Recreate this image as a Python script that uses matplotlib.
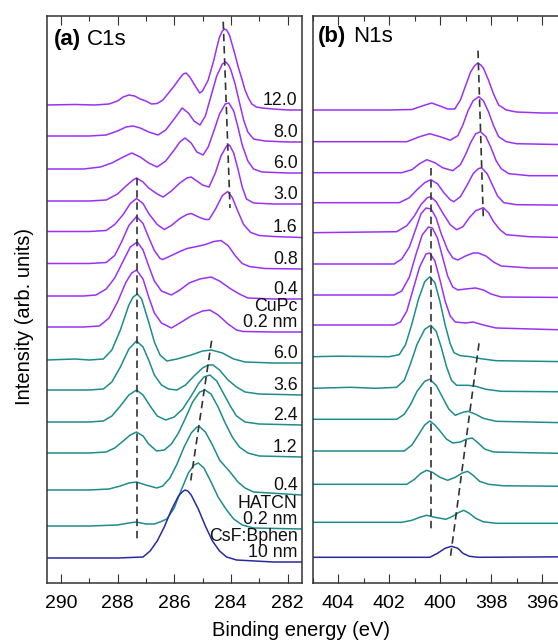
import matplotlib
matplotlib.use('Agg')
import matplotlib.pyplot as plt
from matplotlib.ticker import MultipleLocator
import matplotlib.transforms as mtransforms

plt.rcParams['font.family'] = ['Liberation Sans', 'DejaVu Sans']

# ---------------- data ----------------
curve_labels = ['12.0', '8.0', '6.0', '3.0', '1.6', '0.8', '0.4', 'CuPc\n0.2 nm',
                '6.0', '3.6', '2.4', '1.2', '0.4', 'HATCN\n0.2 nm', 'CsF:Bphen\n10 nm']
curve_groups = ['CuPc'] * 8 + ['HATCN'] * 6 + ['CsF']
group_colors = {'CuPc': '#9a32f5', 'HATCN': '#1e8c8c', 'CsF': '#2a2aa0'}

# vertical stacking offsets (arb. units), top to bottom
c1s_offsets = [477.5, 446.5, 413.5, 381.5, 351, 319, 286.5, 255.5,
               222.5, 192.5, 160.5, 129.5, 92.5, 56.5, 24.5]
n1s_offsets = [472.5, 440.8, 409.8, 379.8, 349.8, 318.5, 287.5, 257.5,
               225.8, 194.2, 163.2, 131.5, 98.2, 60.2, 25.2]

# C1s spectra: (binding energy eV, intensity)
c1s_12p0 = [(290.5,0),(289.5,0.5),(288.8,0),(288.3,1),(288.0,4),(287.8,8),(287.6,10),(287.4,9),(287.2,6),(287.0,4),(286.8,1),(286.6,1.5),(286.4,5),(286.2,12),(286.0,19),(285.8,27),(285.68,31),(285.58,32),(285.45,28),(285.3,21),(285.1,12),(285.0,14),(284.8,25),(284.6,45),(284.5,57),(284.4,68),(284.3,74),(284.23,76),(284.15,75),(284.05,70),(283.97,62),(283.85,50),(283.74,38),(283.6,25),(283.5,15),(283.38,7),(283.26,1),(283.1,-2),(282.9,-3),(282.5,-4),(282.0,-5),(281.5,-5)]
c1s_8p0 = [(290.5,0),(289.0,0),(288.4,1),(288.0,5),(287.7,9),(287.45,10),(287.2,8),(286.9,4),(286.57,1),(286.3,6),(286.0,17),(285.72,28),(285.5,23),(285.3,15),(285.09,11),(284.9,20),(284.7,40),(284.5,60),(284.3,72),(284.18,74),(284.08,71),(284.0,66),(283.85,52),(283.7,34),(283.55,16),(283.4,4),(283.2,-3),(282.8,-5),(282.0,-6),(281.5,-6)]
c1s_6p0 = [(290.5,0),(289.2,0),(288.6,2),(288.2,6),(287.8,12),(287.5,16),(287.2,12),(286.9,6),(286.6,2),(286.3,8),(286.0,19),(285.8,27),(285.62,31),(285.4,26),(285.2,17),(284.98,14),(284.8,22),(284.6,38),(284.4,55),(284.2,65),(284.07,66),(283.9,58),(283.75,42),(283.6,24),(283.4,8),(283.2,0),(282.9,-3),(282.0,-4),(281.5,-4)]
c1s_3p0 = [(290.5,0),(289.0,0),(288.4,1),(288.0,7),(287.7,15),(287.45,21),(287.33,23),(287.1,19),(286.9,13),(286.6,7),(286.39,4),(286.1,10),(285.8,18),(285.55,23),(285.4,24),(285.2,20),(285.0,16),(284.77,14),(284.55,28),(284.35,45),(284.15,55),(284.05,56),(283.9,48),(283.75,32),(283.6,14),(283.45,2),(283.2,-2),(282.5,-3),(281.5,-3)]
c1s_1p6 = [(290.5,0),(289.0,0),(288.4,1),(288.1,7),(287.8,17),(287.55,28),(287.33,33),(287.1,28),(286.9,18),(286.6,7),(286.35,2),(286.1,6),(285.8,13),(285.55,17),(285.4,18),(285.1,14),(284.9,12),(284.77,12),(284.55,22),(284.3,36),(284.11,40),(283.95,34),(283.75,20),(283.55,7),(283.3,-1),(283.0,-4),(282.5,-5),(281.5,-6)]
c1s_0p8 = [(290.5,0),(289.0,0),(288.4,1),(288.1,8),(287.85,22),(287.6,38),(287.33,47),(287.1,40),(286.9,26),(286.7,13),(286.5,5),(286.4,4),(286.1,8),(285.8,12),(285.55,15),(285.2,17),(284.9,19),(284.6,22),(284.35,23),(284.1,18),(283.85,8),(283.6,0),(283.35,-3),(282.8,-5),(281.5,-5.5)]
c1s_0p4 = [(290.5,0),(289.2,0),(288.76,1),(288.4,7),(288.1,18),(287.8,35),(287.55,49),(287.3,54),(287.1,46),(286.9,30),(286.7,15),(286.45,5),(286.1,1),(285.8,6),(285.47,13),(285.1,17),(284.7,19),(284.4,15),(284.0,7),(283.7,2),(283.4,-2),(282.5,-3),(281.5,-3)]
c1s_cupc = [(290.5,0),(289.2,0),(288.64,1),(288.3,9),(288.0,25),(287.7,45),(287.5,54),(287.33,57),(287.1,48),(286.9,30),(286.7,14),(286.45,4),(286.1,-1),(285.8,4),(285.4,11),(285.0,16),(284.74,17),(284.45,12),(284.1,3),(283.8,-3),(283.57,-4.5),(282.5,-5),(281.5,-5)]
c1s_h6p0 = [(290.5,0),(289.5,1),(289.0,0),(288.5,1),(288.2,10),(287.9,30),(287.6,55),(287.45,63),(287.3,66),(287.15,61),(286.9,38),(286.7,18),(286.5,5),(286.26,-1),(285.9,1),(285.4,5),(285.0,9),(284.68,10),(284.3,7),(283.9,1),(283.5,-2),(282.5,-3),(281.5,-3)]
c1s_h3p6 = [(290.5,0),(289.0,0),(288.5,1),(288.2,8),(287.9,23),(287.6,41),(287.33,49),(287.1,43),(286.9,30),(286.7,15),(286.45,5),(286.2,1),(285.91,0),(285.6,5),(285.3,14),(285.0,22),(284.8,25),(284.63,25),(284.4,20),(284.1,10),(283.8,3),(283.5,-2),(283.0,-4),(281.5,-5)]
c1s_h2p4 = [(290.5,0),(289.0,0),(288.5,1),(288.2,6),(287.9,16),(287.6,27),(287.33,32),(287.1,27),(286.85,16),(286.6,6),(286.3,2),(286.0,5),(285.7,13),(285.4,26),(285.15,38),(284.95,45),(284.74,47),(284.5,41),(284.25,28),(284.0,15),(283.8,6),(283.5,0),(283.0,-2),(281.5,-3)]
c1s_h1p2 = [(290.5,0),(289.0,0),(288.4,1),(288.1,5),(287.8,12),(287.55,18),(287.33,21),(287.1,17),(286.9,9),(286.62,2),(286.35,3),(286.1,9),(285.85,20),(285.6,35),(285.35,51),(285.1,61),(284.91,63),(284.7,59),(284.45,46),(284.2,30),(283.95,16),(283.7,6),(283.4,0),(283.0,-3),(281.5,-4)]
c1s_h0p4 = [(290.5,0),(289.0,0),(288.3,1),(287.9,4),(287.6,7),(287.33,8),(287.0,5),(286.62,2),(286.4,4),(286.15,12),(285.9,26),(285.65,43),(285.4,57),(285.2,63),(285.09,63),(284.9,58),(284.65,45),(284.4,30),(284.0,17),(283.75,8),(283.5,2),(283.2,-2),(281.5,-5)]
c1s_h0p2 = [(290.5,0),(289.0,0),(288.0,1),(287.6,3),(287.33,4),(287.0,2),(286.7,2),(286.5,4),(286.26,7),(286.0,18),(285.75,36),(285.5,53),(285.3,61),(285.15,63),(284.95,58),(284.7,44),(284.45,29),(284.15,16),(283.9,7),(283.6,1),(283.2,-2),(281.5,-3)]
c1s_csf = [(290.5,0),(288.0,0),(287.1,1),(286.85,7),(286.6,17),(286.35,31),(286.1,48),(285.85,62),(285.72,66),(285.62,68),(285.52,67),(285.4,63),(285.15,49),(284.9,32),(284.65,17),(284.4,7),(284.15,1),(283.8,-2),(282.5,-4),(281.5,-4)]

# N1s spectra: (binding energy eV, intensity)
n1s_12p0 = [(405,0),(402,0),(401.1,0.5),(400.7,4),(400.33,7),(400.0,4),(399.7,1),(399.42,1),(399.2,10),(399.0,24),(398.8,38),(398.65,44),(398.52,47),(398.4,45),(398.3,42),(398.1,30),(397.9,16),(397.7,5),(397.4,0),(397.0,-2),(396,-3),(395,-3)]
n1s_8p0 = [(405,0),(401.3,0),(400.8,5),(400.4,8),(400.0,5),(399.6,1.5),(399.3,6),(399.1,17),(398.9,31),(398.7,41),(398.48,45),(398.3,41),(398.1,30),(397.9,16),(397.7,5),(397.4,0),(397.0,-2),(395,-3)]
n1s_6p0 = [(405,0),(401.5,0),(401.1,3),(400.8,9),(400.52,13),(400.2,10),(399.9,5),(399.5,2),(399.2,8),(399.0,18),(398.8,30),(398.6,39),(398.41,41),(398.2,36),(398.0,25),(397.8,12),(397.6,4),(397.3,-1),(396.5,-3),(395,-3)]
n1s_3p0 = [(405,0),(401.6,0),(401.2,5),(400.9,13),(400.6,20),(400.36,23),(400.1,19),(399.85,10),(399.6,3),(399.46,1),(399.2,6),(398.95,17),(398.7,29),(398.5,34),(398.37,35),(398.15,29),(397.95,18),(397.75,7),(397.5,0),(397.0,-2),(395,-2.5)]
n1s_1p6 = [(405,0),(401.7,1),(401.3,7),(401.0,17),(400.75,28),(400.5,35),(400.37,36),(400.15,31),(399.9,20),(399.6,8),(399.35,3),(399.1,6),(398.85,15),(398.6,22),(398.3,25),(398.1,20),(397.9,11),(397.65,3),(397.4,-2),(396.5,-4),(395,-5)]
n1s_0p8 = [(405,0),(401.8,0),(401.5,5),(401.2,17),(400.95,35),(400.75,50),(400.55,56),(400.35,55),(400.15,46),(399.95,30),(399.7,14),(399.5,6),(399.3,4),(399.0,8),(398.7,11),(398.5,11),(398.2,8),(397.9,2),(397.6,-2),(396.5,-4),(395,-4)]
n1s_0p4 = [(405,0),(401.8,0),(401.5,4),(401.2,18),(400.95,40),(400.7,60),(400.45,68),(400.3,67),(400.1,57),(399.9,38),(399.7,19),(399.5,8),(399.3,5),(399.0,6),(398.6,7),(398.3,5),(398.0,1),(397.6,-2),(395,-2.5)]
n1s_cupc = [(405,0),(401.8,0),(401.55,3),(401.3,14),(401.05,36),(400.8,58),(400.55,71),(400.4,72),(400.2,64),(400.0,45),(399.8,24),(399.6,9),(399.4,3),(399.0,2),(398.7,3),(398.3,0),(397.8,-3),(395,-5)]
n1s_h6p0 = [(405,0),(404,0.5),(402.0,0),(401.6,2),(401.35,12),(401.1,33),(400.85,57),(400.6,75),(400.4,80),(400.2,74),(400.0,55),(399.8,32),(399.6,13),(399.45,4),(399.2,1),(398.8,0),(398.4,-2),(397.8,-4),(395,-5)]
n1s_h3p6 = [(405,0),(403.5,1),(402.5,0),(401.7,1),(401.4,8),(401.15,25),(400.9,44),(400.6,59),(400.36,63),(400.15,57),(399.95,41),(399.75,22),(399.55,8),(399.35,3),(398.9,3),(398.6,2),(398.2,-1),(397.6,-3),(395,-3.5)]
n1s_h2p4 = [(405,0),(401.7,0),(401.4,5),(401.15,15),(400.9,28),(400.6,38),(400.4,40),(400.15,34),(399.9,22),(399.65,10),(399.4,4),(399.1,7),(398.9,8),(398.6,5),(398.3,1),(397.8,-2),(395,-3.5)]
n1s_h1p2 = [(405,0),(401.4,0),(401.1,6),(400.85,16),(400.6,26),(400.4,30),(400.2,26),(400.0,20),(399.75,12),(399.5,8),(399.2,9),(398.95,12),(398.74,13),(398.5,8),(398.25,2),(397.9,-1),(395,-2.5)]
n1s_h0p4 = [(405,0),(401.3,0),(401.0,5),(400.75,11),(400.52,14),(400.3,12),(400.0,7),(399.7,4),(399.4,7),(399.15,11),(398.92,13),(398.7,9),(398.45,3),(398.1,0),(397.5,-1.5),(395,-2)]
n1s_h0p2 = [(405,0),(401.5,0),(401.1,2),(400.8,5),(400.52,7),(400.2,5),(399.77,3),(399.5,6),(399.25,10),(399.07,12),(398.85,9),(398.6,4),(398.3,0.5),(397.8,-1),(395,-1)]
n1s_csf = [(405,0),(400.4,0),(400.1,4),(399.8,9),(399.55,11),(399.3,9),(399.1,4),(398.85,1),(398.5,0),(395,0.5)]

c1s_spectra = [c1s_12p0, c1s_8p0, c1s_6p0, c1s_3p0, c1s_1p6, c1s_0p8, c1s_0p4, c1s_cupc,
               c1s_h6p0, c1s_h3p6, c1s_h2p4, c1s_h1p2, c1s_h0p4, c1s_h0p2, c1s_csf]
n1s_spectra = [n1s_12p0, n1s_8p0, n1s_6p0, n1s_3p0, n1s_1p6, n1s_0p8, n1s_0p4, n1s_cupc,
               n1s_h6p0, n1s_h3p6, n1s_h2p4, n1s_h1p2, n1s_h0p4, n1s_h0p2, n1s_csf]

# dashed peak-position guides: ((eV, y), (eV, y))
c1s_guides = [((287.33, 404.5), (287.33, 42.5)),
              ((284.27, 560.8), (284.03, 374.5)),
              ((284.68, 241.8), (285.44, 97.5))]
n1s_guides = [((400.36, 414.2), (400.36, 52.5)),
              ((398.51, 531.8), (398.30, 362.5)),
              ((398.47, 239.2), (399.59, 25.8))]

# ---------------- figure ----------------
W, H = 558, 641
fig = plt.figure(figsize=(W / 100, H / 100), dpi=100)

def px_rect(x0, x1, ytop, ybot):
    return [x0 / W, 1 - ybot / H, (x1 - x0) / W, (ybot - ytop) / H]

axL = fig.add_axes(px_rect(46.7, 301.7, 15.5, 582.5))
axR = fig.add_axes(px_rect(312.5, 567.5, 15.5, 582.5))

spine_col = '#333333'
for ax, spectra, offsets, xlim, guides in [
        (axL, c1s_spectra, c1s_offsets, (290.5, 281.5), c1s_guides),
        (axR, n1s_spectra, n1s_offsets, (405, 395), n1s_guides)]:
    for spec, off, grp in zip(spectra, offsets, curve_groups):
        xs = [p[0] for p in spec]
        ys = [p[1] + off for p in spec]
        ax.plot(xs, ys, color=group_colors[grp], lw=1.1, solid_joinstyle='round')
    for (x0, y0), (x1, y1) in guides:
        ax.plot([x0, x1], [y0, y1], color='#333333', lw=1.2,
                linestyle=(0, (4.5, 2.8)))
    ax.set_xlim(*xlim)
    ax.set_ylim(0, 567)
    ax.xaxis.set_major_locator(MultipleLocator(2))
    ax.xaxis.set_minor_locator(MultipleLocator(1))
    ax.tick_params(axis='x', which='both', direction='in', top=True, bottom=True,
                   color=spine_col, width=0.8, labelsize=14, pad=9)
    ax.tick_params(axis='x', which='major', length=6.5)
    ax.tick_params(axis='x', which='minor', length=3.3)
    ax.set_yticks([])
    for s in ax.spines.values():
        s.set_linewidth(1.1)
        s.set_color(spine_col)

# curve labels on the C1s panel
trans = mtransforms.blended_transform_factory(axL.transAxes, axL.transData)
for lab, spec, off in zip(curve_labels, c1s_spectra, c1s_offsets):
    axL.text(0.984, off + spec[-1][1] + 1.0, lab, transform=trans,
             ha='right', va='bottom', multialignment='right',
             fontsize=12.8, linespacing=0.95, color='#111111')

# panel titles
axL.text(0.0286, 0.957, '(a)', transform=axL.transAxes, fontsize=16,
         fontweight='bold', va='center', ha='left')
axL.text(0.158, 0.957, 'C1s', transform=axL.transAxes, fontsize=16,
         va='center', ha='left')
axR.text(0.0227, 0.963, '(b)', transform=axR.transAxes, fontsize=16,
         fontweight='bold', va='center', ha='left')
axR.text(0.160, 0.963, 'N1s', transform=axR.transAxes, fontsize=16,
         va='center', ha='left')

fig.text(300.5 / W, 1 - 630 / H, 'Binding energy (eV)', ha='center', va='center',
         fontsize=14.5)
fig.text(25 / W, 1 - 316.5 / H, 'Intensity (arb. units)', ha='center', va='center',
         rotation=90, fontsize=14.5)

fig.savefig('out.png', dpi=100)
